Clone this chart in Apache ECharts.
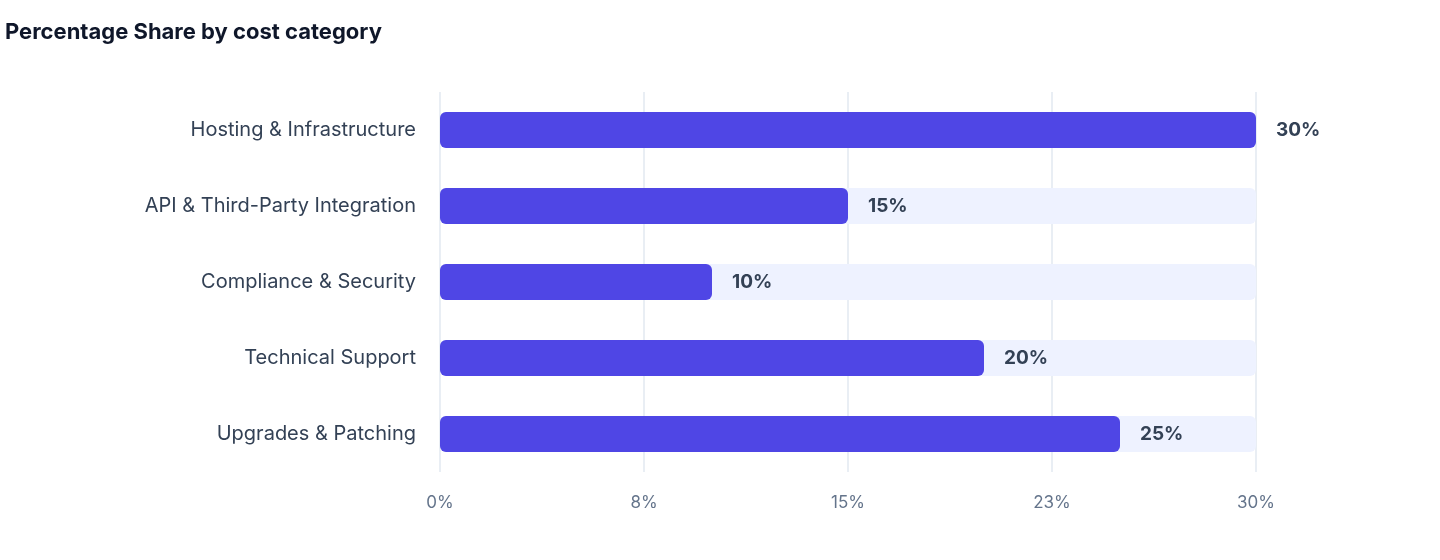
<!DOCTYPE html>
<html><head><meta charset="utf-8">
<script src="https://cdn.jsdelivr.net/npm/echarts@6/dist/echarts.min.js"></script>
<style>html,body{margin:0;background:#fff}#c{width:1440px;height:560px}</style>
</head><body><div id="c"></div>
<script>
const categories = ["Hosting & Infrastructure","API & Third-Party Integration","Compliance & Security","Technical Support","Upgrades & Patching"];
const shares = [30,15,10,20,25];
const chart = echarts.init(document.getElementById('c'));
chart.setOption({
  animation:false,
  textStyle:{fontFamily:'Inter, "Noto Sans", sans-serif'},
  title:{text:'Percentage Share by cost category',left:0,top:16,textStyle:{fontSize:22,fontWeight:'bold',color:'#0f172a'}},
  grid:{left:440,right:184,top:92,bottom:88},
  xAxis:{type:'value',min:0,max:30,interval:7.5,
    axisLabel:{formatter:v=>Math.round(v)+'%',color:'#64748b',fontSize:17,margin:22},
    splitLine:{lineStyle:{color:'#e2e8f0',width:1.5}},axisLine:{show:false},axisTick:{show:false}},
  yAxis:{type:'category',data:categories,inverse:true,
    axisLabel:{color:'#334155',fontSize:20,margin:24},axisLine:{show:false},axisTick:{show:false}},
  series:[{type:'bar',data:shares,barWidth:36,
    itemStyle:{color:'#4f46e5',borderRadius:6},
    showBackground:true,backgroundStyle:{color:'#eef2ff',borderRadius:6},
    label:{show:true,position:'right',distance:20,formatter:'{c}%',fontSize:19,fontWeight:'bold',color:'#334155'}}]
});
</script></body></html>
